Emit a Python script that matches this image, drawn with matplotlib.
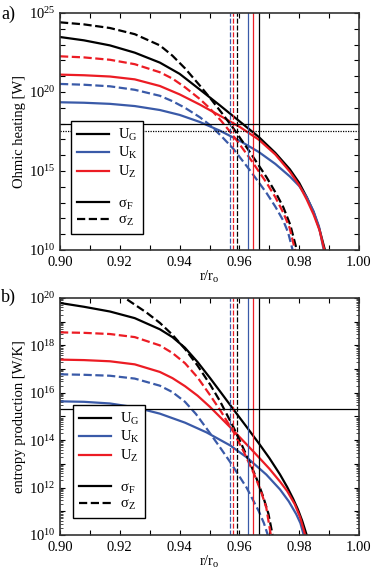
import numpy as np
import matplotlib.pyplot as plt
from matplotlib.lines import Line2D
from matplotlib.ticker import FixedLocator, FixedFormatter, NullLocator, LogLocator

plt.rcParams['font.family'] = ['Liberation Serif', 'DejaVu Serif']
plt.rcParams['mathtext.fontset'] = 'custom'
plt.rcParams['mathtext.rm'] = 'Liberation Serif'
plt.rcParams['mathtext.it'] = 'Liberation Serif:italic'
plt.rcParams['font.size'] = 10.5

blue = '#3a5aa8'
red = '#ec1c24'
black = 'k'

# ---- a) Ohmic heating, log10 of W ----
a_G_F_x = [0.900, 0.908, 0.9167, 0.925, 0.9334, 0.940, 0.9468, 0.9535, 0.9602, 0.9665, 0.972, 0.9769, 0.980, 0.9825, 0.9848, 0.9868, 0.9886]
a_G_F_y = [23.48, 23.27, 22.95, 22.49, 21.86, 21.15, 20.15, 19.15, 18.12, 17.15, 16.15, 15.10, 14.25, 13.35, 12.40, 11.30, 10.0]
a_G_Z_x = [0.900, 0.908, 0.9167, 0.925, 0.9334, 0.9376, 0.9418, 0.9468, 0.9502, 0.954, 0.9579, 0.9635, 0.9691, 0.9725, 0.9747, 0.977, 0.9792]
a_G_Z_y = [24.41, 24.28, 24.05, 23.66, 22.95, 22.30, 21.50, 20.40, 19.62, 18.70, 17.72, 16.20, 14.60, 13.50, 12.70, 11.60, 10.0]
a_Z_F_x = [0.900, 0.908, 0.9167, 0.925, 0.9334, 0.940, 0.9468, 0.9535, 0.9602, 0.9665, 0.972, 0.9769, 0.980, 0.9825, 0.9848, 0.9868, 0.9884]
a_Z_F_y = [21.10, 21.06, 20.98, 20.80, 20.38, 19.85, 19.20, 18.50, 17.78, 16.98, 16.05, 14.95, 14.10, 13.20, 12.25, 11.25, 10.0]
a_Z_Z_x = [0.900, 0.908, 0.9167, 0.925, 0.9334, 0.9376, 0.9418, 0.9468, 0.9502, 0.954, 0.9579, 0.9635, 0.9691, 0.972, 0.9747, 0.9768, 0.9786]
a_Z_Z_y = [22.26, 22.19, 22.04, 21.76, 21.25, 20.85, 20.30, 19.55, 18.95, 18.15, 17.25, 15.80, 14.25, 13.35, 12.35, 11.40, 10.0]
a_K_F_x = [0.900, 0.908, 0.9167, 0.925, 0.9334, 0.940, 0.9468, 0.9535, 0.9602, 0.9665, 0.972, 0.9769, 0.980, 0.9825, 0.9848, 0.9866, 0.9882]
a_K_F_y = [19.35, 19.32, 19.25, 19.11, 18.86, 18.55, 18.10, 17.55, 16.90, 16.20, 15.45, 14.65, 14.05, 13.35, 12.45, 11.50, 10.0]
a_K_Z_x = [0.900, 0.908, 0.9167, 0.925, 0.9334, 0.9376, 0.9418, 0.9468, 0.9502, 0.954, 0.9579, 0.9635, 0.9691, 0.972, 0.9747, 0.9763, 0.9778]
a_K_Z_y = [20.51, 20.46, 20.36, 20.14, 19.76, 19.42, 19.00, 18.40, 17.90, 17.20, 16.42, 15.05, 13.60, 12.75, 11.85, 11.10, 10.0]
a_hline_solid = 1e18
a_hline_dotted = 3.5e17

# ---- b) entropy production, log10 of W/K ----
b_G_F_x = [0.900, 0.908, 0.9167, 0.925, 0.9334, 0.9376, 0.9418, 0.946, 0.9502, 0.954, 0.958, 0.9623, 0.9666, 0.970, 0.9736, 0.976, 0.978, 0.9796, 0.981, 0.9825]
b_G_F_y = [19.79, 19.63, 19.43, 19.15, 18.68, 18.35, 17.90, 17.30, 16.62, 15.98, 15.30, 14.58, 13.85, 13.25, 12.55, 12.02, 11.52, 11.07, 10.60, 10.0]
b_G_Z_x = [0.916, 0.9217, 0.925, 0.929, 0.9334, 0.9376, 0.9418, 0.946, 0.9502, 0.9535, 0.958, 0.9608, 0.9635, 0.966, 0.968, 0.9697, 0.9711]
b_G_Z_y = [20.5, 20.0, 19.72, 19.38, 18.95, 18.45, 17.85, 17.15, 16.35, 15.65, 14.55, 13.80, 13.05, 12.30, 11.60, 10.90, 10.0]
b_Z_F_x = [0.900, 0.908, 0.9167, 0.925, 0.9334, 0.9376, 0.9418, 0.946, 0.9502, 0.9569, 0.9647, 0.970, 0.9736, 0.976, 0.9785, 0.9803, 0.982]
b_Z_F_y = [17.40, 17.38, 17.33, 17.20, 16.88, 16.62, 16.28, 15.88, 15.40, 14.55, 13.52, 12.80, 12.25, 11.85, 11.30, 10.75, 10.0]
b_Z_Z_x = [0.900, 0.908, 0.9167, 0.925, 0.9334, 0.9376, 0.9418, 0.946, 0.9502, 0.954, 0.958, 0.9615, 0.965, 0.9672, 0.969, 0.9705]
b_Z_Z_y = [18.55, 18.53, 18.48, 18.35, 18.00, 17.68, 17.25, 16.65, 15.90, 15.18, 14.35, 13.50, 12.55, 11.85, 11.15, 10.0]
b_K_F_x = [0.900, 0.908, 0.9167, 0.925, 0.9334, 0.9418, 0.949, 0.9569, 0.9624, 0.969, 0.9736, 0.9765, 0.979, 0.9804, 0.9815]
b_K_F_y = [15.64, 15.62, 15.55, 15.39, 15.12, 14.74, 14.33, 13.78, 13.28, 12.55, 11.92, 11.42, 10.88, 10.50, 10.0]
b_K_Z_x = [0.900, 0.908, 0.9167, 0.925, 0.9334, 0.9376, 0.9418, 0.9455, 0.949, 0.9535, 0.9569, 0.9624, 0.9665, 0.9682, 0.9695]
b_K_Z_y = [16.78, 16.76, 16.72, 16.60, 16.30, 16.03, 15.62, 15.10, 14.50, 13.70, 13.08, 12.00, 11.00, 10.50, 10.0]
b_hline = 2e15

# critical radii (vertical lines), order G, K, Z
rc_F = [0.9667, 0.9630, 0.9646]
rc_Z = [0.9593, 0.9568, 0.9580]
colors = [black, blue, red]

fig = plt.figure(figsize=(3.74, 5.71), dpi=100)
ax1 = fig.add_axes([60/374, 1-250/571, 299/374, 237/571])
ax2 = fig.add_axes([60/374, 1-535/571, 299/374, 237/571])

lw = 1.6


def draw(ax, series):
    for (x, y, c, ls) in series:
        ax.plot(x, 10**np.array(y), color=c, ls=ls, lw=lw)
    for xv, c in zip(rc_Z, colors):
        ax.axvline(xv, color=c, lw=0.9, ls=(0, (4, 1.5)))
    for xv, c in zip(rc_F, colors):
        ax.axvline(xv, color=c, lw=0.9)
    ax.set_yscale('log')
    ax.set_xlim(0.90, 1.00)
    ax.set_xticks(np.arange(0.90, 1.0001, 0.01))
    ax.set_xticklabels(['%.2f' % v if i % 2 == 0 else '' for i, v in
                        enumerate(np.arange(0.90, 1.0001, 0.01))])
    ax.tick_params(which='both', direction='in', top=True, right=True)
    ax.tick_params(which='major', length=3.5, width=0.8, pad=3)
    ax.tick_params(axis='x', which='major', pad=4.5)
    ax.tick_params(which='minor', length=2, width=0.5)
    for s in ax.spines.values():
        s.set_linewidth(1.2)
        s.set_color('#333333')
    ax.set_xlabel('r/r$_\\mathrm{o}$', labelpad=0)


draw(ax1, [
    (a_G_F_x, a_G_F_y, black, '-'), (a_K_F_x, a_K_F_y, blue, '-'), (a_Z_F_x, a_Z_F_y, red, '-'),
    (a_G_Z_x, a_G_Z_y, black, '--'), (a_K_Z_x, a_K_Z_y, blue, '--'), (a_Z_Z_x, a_Z_Z_y, red, '--'),
])
ax1.axhline(a_hline_solid, color='k', lw=0.9)
ax1.axhline(a_hline_dotted, color='k', lw=0.9, ls=(0, (1, 1)))
ax1.set_ylim(1e10, 1e25)
dec = np.arange(10, 26)
ax1.yaxis.set_major_locator(FixedLocator(10.0**dec))
ax1.yaxis.set_major_formatter(FixedFormatter(['$10^{%d}$' % d if d % 5 == 0 else '' for d in dec]))
ax1.yaxis.set_minor_locator(NullLocator())
ax1.set_ylabel('Ohmic heating [W]', labelpad=2)

draw(ax2, [
    (b_G_F_x, b_G_F_y, black, '-'), (b_K_F_x, b_K_F_y, blue, '-'), (b_Z_F_x, b_Z_F_y, red, '-'),
    (b_G_Z_x, b_G_Z_y, black, '--'), (b_K_Z_x, b_K_Z_y, blue, '--'), (b_Z_Z_x, b_Z_Z_y, red, '--'),
])
ax2.axhline(b_hline, color='k', lw=0.9)
ax2.set_ylim(1e10, 1e20)
dec = np.arange(10, 21)
ax2.yaxis.set_major_locator(FixedLocator(10.0**dec))
ax2.yaxis.set_major_formatter(FixedFormatter(['$10^{%d}$' % d if d % 2 == 0 else '' for d in dec]))
ax2.yaxis.set_minor_locator(LogLocator(base=10, subs=np.arange(2, 10), numticks=30))
ax2.set_ylabel('entropy production [W/K]', labelpad=2)

handles = [Line2D([], [], color=black, lw=lw), Line2D([], [], color=blue, lw=lw),
           Line2D([], [], color=red, lw=lw), Line2D([], [], color='none'),
           Line2D([], [], color=black, lw=lw), Line2D([], [], color=black, lw=lw, ls='--')]
labels = ['U$_\\mathrm{G}$', 'U$_\\mathrm{K}$', 'U$_\\mathrm{Z}$', '',
          'σ$_\\mathrm{F}$', 'σ$_\\mathrm{Z}$']
for ax, anchor in [(ax1, (0.037, 0.0675)), (ax2, (0.0435, 0.072))]:
    leg = ax.legend(handles, labels, loc='lower left', bbox_to_anchor=anchor,
                    borderaxespad=0, fancybox=False, edgecolor='k', framealpha=1,
                    handlelength=2.2, labelspacing=0.15, handletextpad=0.6,
                    borderpad=0.4, fontsize=10.5)
    leg.get_frame().set_linewidth(1.0)

fig.text(0.003, 1-6/571, 'a)', fontsize=13, va='top')
fig.text(0.003, 1-289/571, 'b)', fontsize=13, va='top')

fig.savefig('out.png', dpi=100)
